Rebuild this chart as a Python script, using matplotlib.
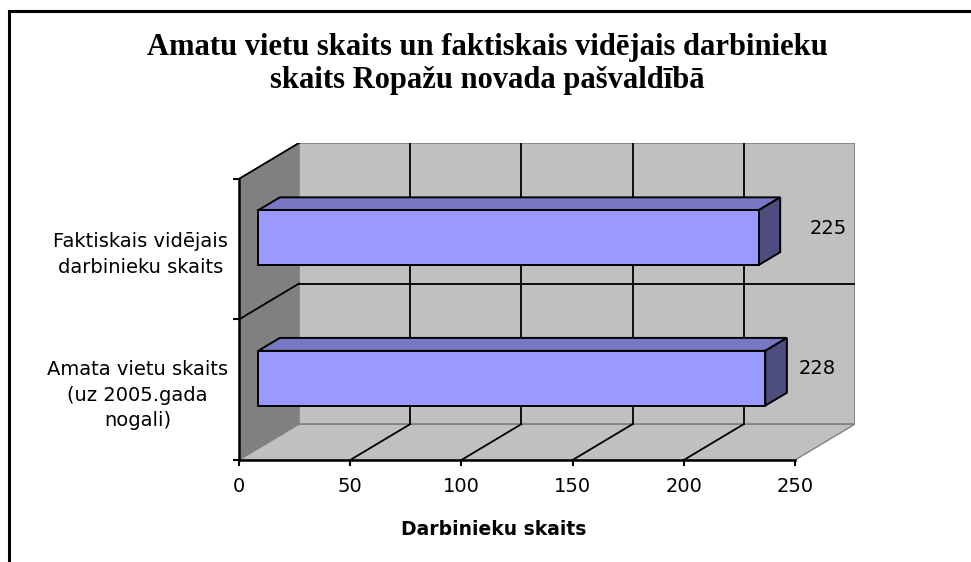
import matplotlib
matplotlib.use("Agg")
import matplotlib.pyplot as plt
from matplotlib.patches import Polygon, Rectangle

# ---- data ----
categories = ["Amata vietu skaits\n(uz 2005.gada\nnogali)",
              "Faktiskais vidējais\ndarbinieku skaits"]
values = [228, 225]
x_ticks = [0, 50, 100, 150, 200, 250]
title = "Amatu vietu skaits un faktiskais vidējais darbinieku\nskaits Ropažu novada pašvaldībā"
xlabel = "Darbinieku skaits"

# ---- style / geometry ----
W, H = 971, 562
XMAX = 250
DX = 60 * XMAX / 556.0       # depth offset in value units
DY = 36 / 141.0              # depth offset in category units
F1, F2 = 0.32, 0.68          # bar depth position (fraction of depth)
BH = 0.39                    # bar height (category units)
WALL_SIDE = "#808080"
WALL = "#c0c0c0"
EDGE_GRAY = "#808080"
FRONT = "#9999ff"
TOP = "#7777c4"
SIDE = "#4d4d80"
SANS = "DejaVu Sans"

fig = plt.figure(figsize=(W / 100, H / 100), dpi=100)
fig.patch.set_facecolor("white")

# outer chart frame
fig.patches.append(Rectangle((9 / W, -0.1), 1.2, (H - 11) / H + 0.1,
                             transform=fig.transFigure, fill=False,
                             edgecolor="black", linewidth=2.2))

ax = fig.add_axes([239 / W, 102 / H, 616 / W, 317 / H])
ax.set_xlim(0, XMAX + DX)
ax.set_ylim(0, len(categories) + DY)
ax.patch.set_visible(False)
ncat = len(categories)

# walls
ax.add_patch(Polygon([(0, 0), (0, ncat), (DX, ncat + DY), (DX, DY)],
                     closed=True, facecolor=WALL_SIDE, edgecolor=EDGE_GRAY, lw=1, zorder=0))
ax.add_patch(Polygon([(0, 0), (XMAX, 0), (XMAX + DX, DY), (DX, DY)],
                     closed=True, facecolor=WALL, edgecolor=EDGE_GRAY, lw=1, zorder=0))
ax.add_patch(Polygon([(DX, DY), (XMAX + DX, DY), (XMAX + DX, ncat + DY), (DX, ncat + DY)],
                     closed=True, facecolor=WALL, edgecolor=EDGE_GRAY, lw=1.2, zorder=0))

# gridlines
for v in x_ticks[1:-1]:
    ax.plot([v + DX, v + DX], [DY, ncat + DY], color="black", lw=1.3, zorder=1)
    ax.plot([v, v + DX], [0, DY], color="black", lw=1.3, zorder=1)
for k in range(1, ncat + 1):
    ax.plot([0, DX], [k, k + DY], color="black", lw=1.3, zorder=1)
    if k < ncat:
        ax.plot([DX, XMAX + DX], [k + DY, k + DY], color="black", lw=1.3, zorder=1)

# bars
x0 = F1 * DX
dxb = (F2 - F1) * DX
dyb = (F2 - F1) * DY
for i, v in enumerate(values):
    yb = i + 0.5 - BH / 2 + F1 * DY
    yt = yb + BH
    x1 = x0 + v
    ax.add_patch(Polygon([(x0, yt), (x1, yt), (x1 + dxb, yt + dyb), (x0 + dxb, yt + dyb)],
                         closed=True, facecolor=TOP, edgecolor="black", lw=1.4, zorder=3))
    ax.add_patch(Polygon([(x1, yb), (x1 + dxb, yb + dyb), (x1 + dxb, yt + dyb), (x1, yt)],
                         closed=True, facecolor=SIDE, edgecolor="black", lw=1.4, zorder=3))
    ax.add_patch(Rectangle((x0, yb), v, BH, facecolor=FRONT, edgecolor="black",
                           lw=1.4, zorder=4))
    ax.text(v + 32 + 8 * i, i + 0.65, str(v), ha="center", va="center",
            fontsize=14, family=SANS, zorder=5)

# axes / spines
for s in ["top", "right"]:
    ax.spines[s].set_visible(False)
ax.spines["bottom"].set_bounds(0, XMAX)
ax.spines["left"].set_bounds(0, ncat)
ax.spines["bottom"].set_linewidth(1.8)
ax.spines["left"].set_linewidth(1.8)
ax.spines["bottom"].set_zorder(6)
ax.spines["left"].set_zorder(6)

ax.set_xticks(x_ticks)
ax.set_xticklabels([str(t) for t in x_ticks], fontsize=14, family=SANS)
ax.tick_params(axis="x", direction="out", length=4, width=1.5, pad=8)
ax.set_yticks(range(ncat + 1))
ax.set_yticklabels([])
ax.tick_params(axis="y", which="major", direction="out", length=4, width=1.5)
ax.set_yticks([i + 0.5 for i in range(ncat)], minor=True)
ax.set_yticklabels(categories, minor=True, fontsize=14, family=SANS,
                   linespacing=1.45)
ax.tick_params(axis="y", which="minor", length=0, pad=8)
for lab in ax.get_yticklabels(minor=True):
    lab.set_multialignment("center")

ax.set_xlabel(xlabel, fontsize=13.5, fontweight="bold", family=SANS)
ax.xaxis.set_label_coords((494 - 239) / 616, -0.19)

fig.text(487 / W, 1 - 64 / H, title, ha="center", va="center",
         fontsize=22, fontweight="bold", family="Liberation Serif", linespacing=1.2)

fig.savefig("out.png", dpi=100)
